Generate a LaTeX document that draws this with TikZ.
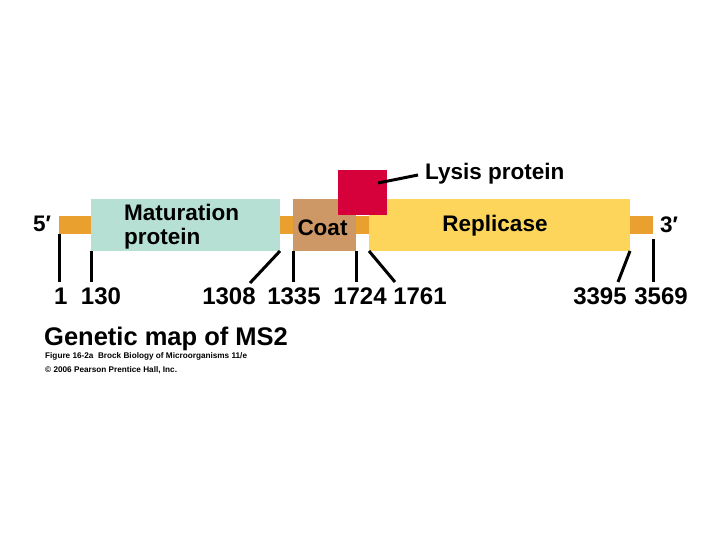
\documentclass[tikz,border=0pt]{standalone}
\usepackage{fontspec}
\setmainfont{Liberation Sans}
\definecolor{gorange}{HTML}{E9A02E}
\definecolor{gteal}{HTML}{B5E0D3}
\definecolor{gcoat}{HTML}{CE9866}
\definecolor{gred}{HTML}{D6003A}
\definecolor{gyellow}{HTML}{FCD55A}
\begin{document}
\begin{tikzpicture}[x=1pt,y=-1pt,
  gene/.style={draw=none, inner sep=0pt, outer sep=0pt, anchor=north west},
  tick/.style={line width=3pt, black},
  lbl/.style={inner sep=0pt, font=\bfseries\fontsize{22.5}{21}\selectfont},
  num/.style={inner sep=0pt, anchor=base, font=\bfseries\fontsize{24}{24}\selectfont}]
\useasboundingbox[fill=white] (0,0) rectangle (720,540);
% genome bar and genes
\node[gene, fill=gorange, minimum width=594pt, minimum height=18pt] (bar) at (59,216) {};
\node[gene, fill=gteal, minimum width=189pt, minimum height=52pt] (mat) at (91,199) {};
\node[gene, fill=gcoat, minimum width=63pt, minimum height=52pt] (coat) at (293,199) {};
\node[gene, fill=gyellow, minimum width=261pt, minimum height=52pt] (rep) at (369,199) {};
\node[gene, fill=gred, minimum width=49pt, minimum height=45pt] (lys) at (338,170) {};
% gene labels
\node[lbl, anchor=north west, align=left] (matlbl) at (124,204) {Maturation\\[3pt]protein};
\node[lbl, anchor=base] (coatlbl) at (322.5,236) {Coat};
\node[lbl, anchor=base] (replbl) at (495,231.7) {Replicase};
\node[lbl, anchor=base west] (lyslbl) at (425,180) {Lysis protein};
\node[lbl, anchor=base] (five) at (42,232) {5′};
\node[lbl, anchor=base west] (three) at (660,233) {3′};
% lysis leader
\coordinate (lsA) at (378,183);
\coordinate (lsB) at (418,175);
\draw[tick] (lsA) -- (lsB);
% positions
\node[num] (n1) at (60.7,304) {1};
\node[num] (n130) at (101,304) {130};
\node[num] (n1308) at (229,304) {1308};
\node[num] (n1335) at (294,304) {1335};
\node[num] (n1724) at (360,304) {1724};
\node[num] (n1761) at (420,304) {1761};
\node[num] (n3395) at (600,304) {3395};
\node[num] (n3569) at (661,304) {3569};
% tick ends
\coordinate (e1) at (59,282);
\coordinate (e130) at (91,282);
\coordinate (e1308) at (250,283);
\coordinate (e1335) at (293,282);
\coordinate (e1724) at (356,282);
\coordinate (e1761) at (395,282);
\coordinate (e3395) at (618,282);
\coordinate (s3569) at (653,239);
\coordinate (e3569) at (653,282);
\draw[tick] (bar.south west) -- (e1);
\draw[tick] (mat.south west) -- (e130);
\draw[tick] (mat.south east) -- (e1308);
\draw[tick] (coat.south west) -- (e1335);
\draw[tick] (coat.south east) -- (e1724);
\draw[tick] (rep.south west) -- (e1761);
\draw[tick] (rep.south east) -- (e3395);
\draw[tick] (s3569) -- (e3569);
% titles
\node[inner sep=0pt, anchor=base west, font=\bfseries\fontsize{25.5}{26}\selectfont] (title) at (44,345) {Genetic map of MS2};
\node[inner sep=0pt, anchor=base west, font=\bfseries\fontsize{8.2}{10}\selectfont] (cap1) at (45,358) {Figure 16-2a\ \ Brock Biology of Microorganisms 11/e};
\node[inner sep=0pt, anchor=base west, font=\bfseries\fontsize{8.2}{10}\selectfont] (cap2) at (45,372.7) {© 2006 Pearson Prentice Hall, Inc.};
\end{tikzpicture}
\end{document}
